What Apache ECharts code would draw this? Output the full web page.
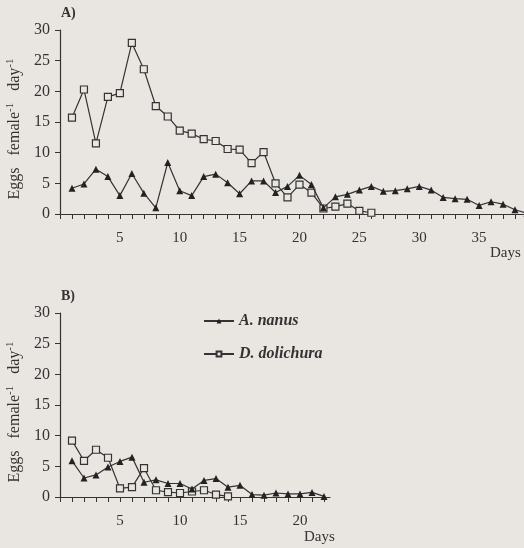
<!DOCTYPE html>
<html>
<head>
<meta charset="utf-8">
<script src="https://cdn.jsdelivr.net/npm/echarts@6/dist/echarts.min.js"></script>
<style>
  html, body { margin: 0; padding: 0; background: #e9e6e2; }
  #chart { width: 524px; height: 548px; }
</style>
</head>
<body>
<div id="chart"></div>
<script>
// eggs per female per day, one value per day starting at day 1
const aNanusA = [4.2, 4.9, 7.3, 6.1, 3.0, 6.6, 3.4, 1.0, 8.4, 3.8, 3.0, 6.1, 6.5, 5.1, 3.3, 5.4, 5.4, 3.5, 4.5, 6.3,
  4.8, 1.0, 2.8, 3.2, 3.9, 4.5, 3.7, 3.8, 4.1, 4.5, 3.9, 2.7, 2.5, 2.4, 1.4, 2.0, 1.6, 0.7, 0.1]
const dDolichuraA = [15.7, 20.3, 11.5, 19.1, 19.7, 27.9, 23.6, 17.6, 15.9, 13.6, 13.1, 12.2, 11.9, 10.6, 10.5, 8.3, 10.1, 5.0, 2.7, 4.8,
  3.5, 0.9, 1.2, 1.7, 0.5, 0.2]
const aNanusB = [5.9, 3.1, 3.6, 4.9, 5.8, 6.5, 2.4, 2.8, 2.2, 2.2, 1.3, 2.7, 3.0, 1.6, 1.9, 0.4, 0.3, 0.65, 0.5, 0.5, 0.75, 0.1]
const dDolichuraB = [9.2, 5.9, 7.7, 6.4, 1.4, 1.6, 4.7, 1.1, 0.8, 0.65, 0.9, 1.1, 0.4, 0.1]
const yTicks = [0, 5, 10, 15, 20, 25, 30]
const dayLabels = [5, 10, 15, 20, 25, 30, 35]

const bg = '#e9e6e2'
const ink = '#333'
const font = 'Liberation Serif'

const toPoints = arr => arr.map((v, i) => [i + 1, v])

function xAxis (grid, max) {
  return {
    type: 'value',
    gridIndex: grid,
    min: 0,
    max: max,
    interval: 1,
    axisLine: { lineStyle: { color: ink, width: 1.2 } },
    axisTick: { length: 5, lineStyle: { color: ink } },
    splitLine: { show: false },
    axisLabel: {
      color: ink,
      fontFamily: font,
      fontSize: 15,
      margin: 17,
      showMaxLabel: false,
      formatter: v => dayLabels.indexOf(v) >= 0 ? String(v) : ''
    }
  }
}

function yAxis (grid) {
  return {
    type: 'value',
    gridIndex: grid,
    min: yTicks[0],
    max: yTicks[yTicks.length - 1],
    interval: 5,
    name: 'Eggs   female{sup|-1}   day{sup|-1}',
    nameLocation: 'middle',
    nameRotate: 90,
    nameGap: 30,
    nameTextStyle: {
      color: ink,
      fontFamily: font,
      fontSize: 16,
      padding: [0, 14, 0, 0],
      rich: {
        sup: { fontFamily: font, fontSize: 11, color: ink, verticalAlign: 'top', padding: [0, 0, 9, 0] }
      }
    },
    axisLine: { show: true, lineStyle: { color: ink, width: 1.2 } },
    axisTick: { show: true, length: 5, lineStyle: { color: ink } },
    splitLine: { show: false },
    axisLabel: { color: ink, fontFamily: font, fontSize: 16, margin: 10 }
  }
}

function nanus (grid, data) {
  return {
    name: 'A. nanus',
    type: 'line',
    xAxisIndex: grid,
    yAxisIndex: grid,
    data: toPoints(data),
    symbol: 'triangle',
    symbolSize: 7,
    lineStyle: { color: ink, width: 1.2 },
    itemStyle: { color: '#222' },
    z: 3
  }
}

function dolichura (grid, data) {
  return {
    name: 'D. dolichura',
    type: 'line',
    xAxisIndex: grid,
    yAxisIndex: grid,
    data: toPoints(data),
    symbol: 'rect',
    symbolSize: 7,
    lineStyle: { color: ink, width: 1.2 },
    itemStyle: { color: bg, borderColor: ink, borderWidth: 1.2 },
    z: 2
  }
}

const chart = echarts.init(document.getElementById('chart'))

const option = {
  backgroundColor: bg,
  animation: false,
  textStyle: { fontFamily: font },
  grid: [
    { left: 60, top: 30, width: 467, height: 184, outerBoundsMode: 'none' },
    { left: 60, top: 313, width: 270, height: 184, outerBoundsMode: 'none' }
  ],
  xAxis: [xAxis(0, 39), xAxis(1, 22.5)],
  yAxis: [yAxis(0), yAxis(1)],
  legend: {
    orient: 'vertical',
    left: 198,
    top: 308,
    itemWidth: 30,
    itemHeight: 6,
    itemGap: 17,
    data: ['A. nanus', 'D. dolichura'],
    textStyle: { color: ink, fontFamily: font, fontSize: 16, fontStyle: 'italic', fontWeight: 'bold' }
  },
  graphic: [
    { type: 'text', left: 61, top: 6, style: { text: 'A)', font: 'bold 14px "Liberation Serif"', fill: ink } },
    { type: 'text', left: 61, top: 289, style: { text: 'B)', font: 'bold 14px "Liberation Serif"', fill: ink } },
    { type: 'text', left: 490, top: 246, style: { text: 'Days', font: '15px "Liberation Serif"', fill: ink } },
    { type: 'text', left: 304, top: 530, style: { text: 'Days', font: '15px "Liberation Serif"', fill: ink } }
  ],
  series: [
    nanus(0, aNanusA),
    dolichura(0, dDolichuraA),
    nanus(1, aNanusB),
    dolichura(1, dDolichuraB)
  ]
}

chart.setOption(option)
</script>
</body>
</html>
